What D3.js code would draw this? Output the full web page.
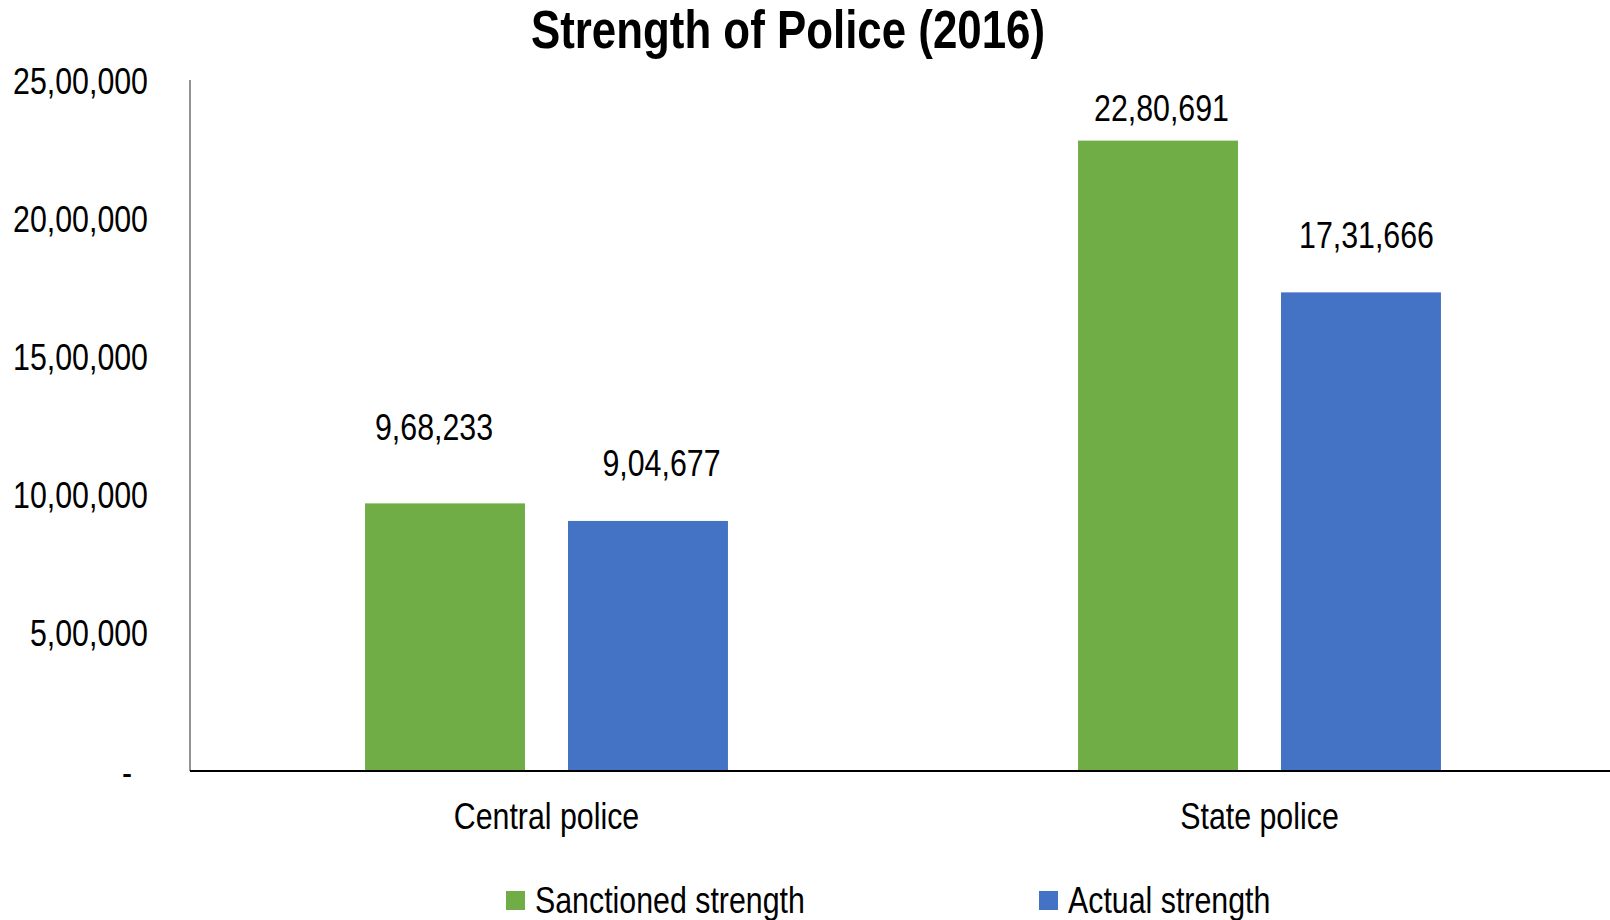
<!DOCTYPE html>
<html>
<head>
<meta charset="utf-8">
<script src="https://cdn.jsdelivr.net/npm/d3@7"></script>
<style>
  html, body { margin: 0; padding: 0; background: #fff; }
  svg { display: block; }
  text { font-family: "Liberation Sans", Arial, sans-serif; fill: #000; }
</style>
</head>
<body>
<svg id="chart" width="1610" height="920"></svg>
<script>
// ---- data ----
const categories = ["Central police", "State police"];
const seriesNames = ["Sanctioned strength", "Actual strength"];
const sanctioned = [968233, 2280691];
const actual = [904677, 1731666];
const yTicks = [0, 500000, 1000000, 1500000, 2000000, 2500000];
const titleText = "Strength of Police (2016)";

// ---- layout / style (not data) ----
const colors = ["#70AD47", "#4472C4"];
const NARROW = 0.82; // emulate a narrow face by horizontal scaling
// manual nudges of the data labels (dx, dy from bar top centre), per category, per series
const labelNudge = [
  [[-11, -76], [13.5, -57.5]],
  [[3.5, -33], [5.5, -57]]
];

const W = 1610, H = 920;
const svg = d3.select("#chart");

const y = d3.scaleLinear().domain([0, 2500000]).range([771, 80]);
const x0 = d3.scaleBand().domain(categories).range([190, 1616])
  .paddingInner(0.491).paddingOuter(0.2455);
const x1 = d3.scaleBand().domain(seriesNames).range([0, x0.bandwidth()])
  .paddingInner(0.212).paddingOuter(0);

function inr(v) {
  if (v === 0) return "-";
  const s = String(Math.round(v));
  const last3 = s.slice(-3);
  let rest = s.slice(0, -3);
  if (!rest) return last3;
  rest = rest.replace(/\B(?=(\d{2})+(?!\d))/g, ",");
  return rest + "," + last3;
}

// narrow text helper
function narrowText(sel, x, yy, str, size, anchor, weight) {
  return sel.append("text")
    .attr("transform", `translate(${x},${yy}) scale(${NARROW},1)`)
    .attr("text-anchor", anchor || "middle")
    .style("font-size", size + "px")
    .style("font-weight", weight || "normal")
    .text(str);
}

// title
narrowText(svg, 788, 48, titleText, 53.5, "middle", "bold");

// y axis (labels via d3 axis, then narrowed)
const yAxis = d3.axisLeft(y).tickValues(yTicks).tickFormat(inr).tickSize(0).tickPadding(0);
const gy = svg.append("g").attr("transform", "translate(190,0)").call(yAxis);
gy.select(".domain").remove();
gy.selectAll(".tick text")
  .attr("x", null).attr("dy", null)
  .style("font-size", "37px")
  .style("font-family", '"Liberation Sans", Arial, sans-serif')
  .attr("fill", "#000")
  .attr("text-anchor", "end")
  .attr("transform", d => `translate(${d === 0 ? -58 : -42},13) scale(${NARROW},1)`);

// bars
const groups = svg.append("g").selectAll("g")
  .data(categories.map((c, i) => ({ cat: c, i, vals: [sanctioned[i], actual[i]] })))
  .join("g")
  .attr("transform", d => `translate(${x0(d.cat)},0)`);

groups.selectAll("rect")
  .data(d => d.vals.map((v, j) => ({ v, j, s: seriesNames[j] })))
  .join("rect")
  .attr("x", d => x1(d.s))
  .attr("y", d => y(d.v))
  .attr("width", x1.bandwidth())
  .attr("height", d => y(0) - y(d.v))
  .attr("fill", d => colors[d.j]);

// data labels
groups.each(function (d) {
  const g = d3.select(this);
  d.vals.forEach((v, j) => {
    const nx = labelNudge[d.i][j];
    const cx = x1(seriesNames[j]) + x1.bandwidth() / 2 + nx[0];
    const cy = y(v) + nx[1] + 13;
    narrowText(g, cx, cy, inr(v), 37, "middle");
  });
});

// axis lines
svg.append("line").attr("x1", 190).attr("x2", 190).attr("y1", 80).attr("y2", 771)
  .attr("stroke", "#595959").attr("stroke-width", 1.3);
const xAxis = d3.axisBottom(x0).tickSize(0).tickPadding(0).tickSizeOuter(0);
const gx = svg.append("g").attr("transform", "translate(0,771)").call(xAxis);
gx.select(".domain").attr("stroke", "#000").attr("stroke-width", 2)
  .attr("d", "M190,0H1610");
gx.selectAll(".tick text")
  .attr("y", null).attr("dy", null)
  .style("font-size", "37px")
  .style("font-family", '"Liberation Sans", Arial, sans-serif')
  .attr("fill", "#000")
  .attr("transform", `translate(0,58) scale(${NARROW},1)`);

// legend
const legendX = [506, 1039];
const leg = svg.append("g").selectAll("g").data(seriesNames).join("g")
  .attr("transform", (d, i) => `translate(${legendX[i]},891)`);
leg.append("rect").attr("width", 19).attr("height", 19).attr("fill", (d, i) => colors[i]);
leg.each(function (d) {
  narrowText(d3.select(this), 29, 22, d, 37, "start");
});
</script>
</body>
</html>
